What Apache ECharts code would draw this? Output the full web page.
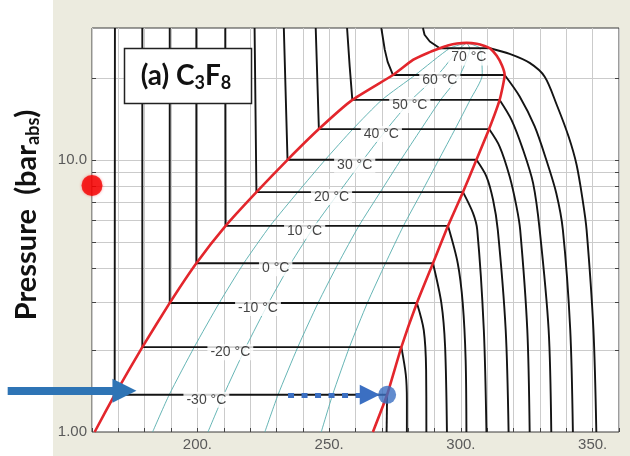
<!DOCTYPE html>
<html>
<head>
<meta charset="utf-8">
<script src="https://cdn.jsdelivr.net/npm/echarts/dist/echarts.min.js"></script>
<style>
  html, body { margin: 0; padding: 0; background: #ffffff; }
  #chart { width: 630px; height: 456px; }
</style>
</head>
<body>
<div id="chart"></div>
<script>
// ---- Axes (enthalpy in kJ/kg, pressure in bar abs, log scale) ----
const X_MIN = 160, X_MAX = 360, X_STEP = 10;
const Y_MIN = 1, Y_MAX = 30.5;
const X_LABEL_VALUES = [200, 250, 300, 350];
const Y_LABEL_VALUES = [1, 10];
const Y_LABEL_TEXT = ['1.00', '10.0'];
const GRID_P = [2, 3, 4, 5, 6, 7, 8, 9, 10, 20];

// ---- Isotherms of C3F8 ----
const TEMPS = [-30, -20, -10, 0, 10, 20, 30, 40, 50, 60, 70];
const P_SAT = [1.37, 2.05, 2.98, 4.17, 5.72, 7.61, 10.0, 12.97, 16.6, 20.5, 25.7];
const H_LIQ = [168.6, 179.1, 189.5, 199.6, 210.7, 222.4, 234.2, 246.1, 258.8, 274.2, 292.0];
const H_VAP = [272.0, 277.4, 283.3, 289.4, 295.1, 300.8, 305.9, 310.7, 314.7, 316.6, 311.0];

// subcooled-liquid branches, from the top of the chart down to saturation
const LIQ_BRANCH = [
  [[168.7, 30.5], [168.6, 1.37]],
  [[179.1, 30.5], [179.1, 2.05]],
  [[189.5, 30.5], [189.5, 2.98]],
  [[199.6, 30.5], [199.6, 4.17]],
  [[210.6, 30.5], [210.7, 5.72]],
  [[221.7, 30.5], [222.4, 7.61]],
  [[232.8, 30.5], [234.2, 10.0]],
  [[244.9, 30.5], [246.1, 12.97]],
  [[256.8, 30.5], [257.8, 22.0], [258.8, 16.6]],
  [[269.8, 30.5], [271.1, 25.4], [272.2, 22.9], [274.2, 20.5]],
  [[285.6, 30.5], [286.2, 28.8], [288.2, 27.2], [292.0, 25.7]]
];

// superheated-vapour branches, from saturation down to 1 bar
const VAP_BRANCH = [
  [[272.0, 1.37], [271.8, 1.0]],
  [[277.4, 2.05], [279.1, 1.62], [279.5, 1.31], [279.5, 1.0]],
  [[283.3, 2.98], [285.9, 2.37], [286.8, 1.69], [286.9, 1.0]],
  [[289.4, 4.17], [292.6, 2.97], [294.0, 2.06], [294.7, 1.0]],
  [[295.1, 5.72], [298.8, 4.17], [300.7, 2.97], [301.8, 1.84], [302.1, 1.0]],
  [[300.8, 7.61], [304.6, 6.37], [306.2, 5.53], [308.7, 2.37], [309.7, 1.0]],
  [[305.9, 10.0], [309.7, 8.68], [312.2, 7.13], [314.0, 5.53], [317.0, 2.37], [318.1, 1.0]],
  [[310.7, 12.97], [314.7, 11.19], [318.5, 8.68], [321.1, 6.73], [322.5, 5.53], [325.2, 2.37], [326.1, 1.0]],
  [[314.7, 16.6], [319.2, 14.03], [323.6, 10.88], [327.4, 8.21], [329.9, 5.53], [333.3, 2.37], [334.3, 1.0]],
  [[316.6, 20.5], [322.3, 17.09], [328.0, 13.26], [332.4, 10.0], [336.2, 7.54], [338.7, 5.53], [341.5, 2.37], [342.5, 1.0]],
  [[311.0, 25.7], [318.5, 24.5], [326.1, 22.7], [331.8, 20.2], [336.4, 15.9], [340.9, 12.15], [343.9, 9.59], [346.2, 7.13], [347.7, 5.53], [350.3, 2.37], [351.4, 1.0]]
];

// isotherm label anchors
const LABEL_H = [203.4, 212.5, 223.0, 229.7, 240.7, 250.9, 259.7, 269.8, 280.6, 292.0, 303.0];
const LABEL_P = [1.37, 2.05, 2.98, 4.17, 5.72, 7.61, 10.0, 12.97, 16.6, 20.5, 24.8];

// ---- Saturation dome ----
const DOME = [
  [161.0, 1.00], [168.6, 1.37], [179.1, 2.05], [189.5, 2.98], [199.6, 4.17],
  [210.7, 5.72], [222.4, 7.61], [234.2, 10.0], [246.1, 12.97], [258.8, 16.6],
  [274.2, 20.5], [281.8, 23.3], [287.4, 24.7], [292.0, 25.7], [295.0, 26.3],
  [298.5, 26.75], [302.2, 26.9], [306.0, 26.7], [309.0, 26.2], [311.0, 25.7],
  [313.6, 24.1], [315.6, 22.2], [316.6, 20.5], [314.7, 16.6],
  [310.7, 12.97], [305.9, 10.0], [300.8, 7.61], [295.1, 5.72], [289.4, 4.17],
  [283.3, 2.98], [277.4, 2.05], [272.0, 1.37], [266.6, 1.00]
];

// ---- Constant-quality lines inside the dome ----
const QUALITY_20 = [[183.0, 1.0], [189.3, 1.37], [198.8, 2.05], [208.3, 2.98], [217.6, 4.17], [227.6, 5.72], [238.1, 7.61], [248.5, 10.0], [259.0, 12.97], [270.0, 16.6], [282.7, 20.5], [295.8, 25.7], [302.2, 26.9]];
const QUALITY_40 = [[204.0, 1.0], [210.0, 1.37], [218.4, 2.05], [227.0, 2.98], [235.5, 4.17], [244.5, 5.72], [253.8, 7.61], [262.9, 10.0], [271.9, 12.97], [281.2, 16.6], [291.2, 20.5], [299.6, 25.7], [302.2, 26.9]];
const QUALITY_60 = [[225.6, 1.0], [230.6, 1.37], [238.1, 2.05], [245.8, 2.98], [253.5, 4.17], [261.3, 5.72], [269.4, 7.61], [277.2, 10.0], [284.9, 12.97], [292.3, 16.6], [299.6, 20.5], [303.4, 25.7], [302.2, 26.9]];
const QUALITY_80 = [[247.0, 1.0], [251.3, 1.37], [257.7, 2.05], [264.5, 2.98], [271.4, 4.17], [278.2, 5.72], [285.1, 7.61], [291.6, 10.0], [297.8, 12.97], [303.5, 16.6], [308.1, 20.5], [307.2, 25.7], [302.2, 26.9]];

// ---- Annotations ----
const FEED_ARROW = [[128.0, 1.418], [172.3, 1.418]];
const EVAP_PATH = [[234.4, 1.37], [265.4, 1.37]];
const EVAP_END = [272.0, 1.37];
const RED_POINT = [160, 8.05];

const SANS = "'Liberation Sans', Arial, sans-serif";
const BLACK = '#141414';

const series = [];

// horizontal pressure grid lines with edge ticks
series.push({
  type: 'custom',
  silent: true,
  z: 1,
  data: GRID_P.map(p => [X_MIN, p]),
  encode: { x: 0, y: 1 },
  renderItem: function (params, api) {
    const cs = params.coordSys;
    const y = Math.round(api.coord([X_MIN, api.value(1)])[1]) + 0.5;
    const x0 = cs.x, x1 = cs.x + cs.width;
    return {
      type: 'group',
      children: [
        { type: 'line', shape: { x1: x0, y1: y, x2: x1, y2: y }, style: { stroke: '#cbcbcb', lineWidth: 1 } },
        { type: 'line', shape: { x1: x0, y1: y, x2: x0 + 4, y2: y }, style: { stroke: '#444', lineWidth: 1 } },
        { type: 'line', shape: { x1: x1 - 4, y1: y, x2: x1, y2: y }, style: { stroke: '#444', lineWidth: 1 } }
      ]
    };
  }
});

[QUALITY_20, QUALITY_40, QUALITY_60, QUALITY_80].forEach(q => {
  series.push({
    type: 'line', data: q, z: 2, silent: true, symbol: 'none', smooth: 0.2,
    lineStyle: { color: '#55adad', width: 0.9 }
  });
});

TEMPS.forEach((t, i) => {
  // liquid branch plus the horizontal two-phase segment
  series.push({
    type: 'line', z: 3, silent: true, symbol: 'none',
    data: LIQ_BRANCH[i].concat([[H_VAP[i], P_SAT[i]]]),
    lineStyle: { color: BLACK, width: 1.9 }
  });
  series.push({
    type: 'line', z: 3, silent: true, symbol: 'none', smooth: 0.3,
    data: VAP_BRANCH[i],
    lineStyle: { color: BLACK, width: 1.9 }
  });
});

series.push({
  type: 'line', z: 4, silent: true, symbol: 'none', smooth: 0.15,
  data: DOME,
  lineStyle: { color: '#e3262c', width: 2.6 }
});

series.push({
  type: 'scatter', z: 5, silent: true, symbolSize: 0,
  data: TEMPS.map((t, i) => ({ value: [LABEL_H[i], LABEL_P[i]], name: t + ' \u00B0C' })),
  label: {
    show: true, position: 'inside', offset: [0, 5],
    formatter: p => p.name,
    color: BLACK, fontSize: 14, fontFamily: SANS,
    backgroundColor: '#ffffff', padding: [1, 3]
  }
});

series.push({
  type: 'lines', coordinateSystem: 'cartesian2d', z: 6, silent: true, clip: false,
  data: [{ coords: FEED_ARROW }],
  symbol: ['none', 'triangle'], symbolSize: [24, 24],
  lineStyle: { color: '#2e74b5', width: 8, opacity: 1 }
});

series.push({
  type: 'lines', coordinateSystem: 'cartesian2d', z: 6, silent: true, clip: false,
  data: [{ coords: EVAP_PATH }],
  symbol: ['none', 'triangle'], symbolSize: [20, 20],
  lineStyle: { color: '#3b6fc2', width: 5, type: [6, 7.5], opacity: 1 }
});

series.push({
  type: 'scatter', z: 7, silent: true, clip: false,
  data: [EVAP_END], symbolSize: 18,
  itemStyle: { color: '#3b6fc2' }
});

series.push({
  type: 'scatter', z: 7, silent: true, clip: false,
  data: [RED_POINT], symbolSize: 21,
  itemStyle: { color: '#f40000', shadowColor: 'rgba(255,0,0,0.5)', shadowBlur: 3 }
});

const chart = echarts.init(document.getElementById('chart'), null, { renderer: 'canvas' });
chart.setOption({
  animation: false,
  backgroundColor: '#ffffff',
  grid: {
    left: 92, right: 11, top: 28, bottom: 24,
    outerBoundsMode: 'none',
    show: true, backgroundColor: '#ffffff', borderColor: '#3a3a3a', borderWidth: 1
  },
  xAxis: {
    type: 'value', min: X_MIN, max: X_MAX, interval: X_STEP,
    axisLine: { show: false },
    axisTick: { show: true, inside: true, length: 4, lineStyle: { color: '#444' } },
    splitLine: { show: true, lineStyle: { color: '#cbcbcb', width: 1 } },
    axisLabel: {
      interval: 0, margin: 5, color: '#5a5a5a', fontSize: 15, fontFamily: SANS,
      formatter: v => (X_LABEL_VALUES.indexOf(v) >= 0 ? v + '.' : '')
    }
  },
  yAxis: {
    type: 'log', logBase: 10, min: Y_MIN, max: Y_MAX,
    axisLine: { show: false },
    axisTick: { show: false },
    splitLine: { show: false },
    axisLabel: {
      margin: 5, color: '#5a5a5a', fontSize: 15, fontFamily: SANS,
      formatter: v => {
        for (let k = 0; k < Y_LABEL_VALUES.length; k++) {
          if (Math.abs(v - Y_LABEL_VALUES[k]) < 1e-6) return Y_LABEL_TEXT[k];
        }
        return '';
      }
    }
  },
  graphic: [
    { type: 'rect', z: -100, silent: true, shape: { x: 53, y: 0, width: 577, height: 456 }, style: { fill: '#ecebdf' } },
    {
      type: 'text', z: 100, silent: true, x: 27, y: 215, rotation: Math.PI / 2,
      style: {
        text: '{a|Pressure  (bar}{s|abs}{a|)}',
        align: 'center', verticalAlign: 'middle',
        rich: {
          a: { fontSize: 29, fontWeight: 'bold', fontFamily: 'Lato, sans-serif', fill: '#111' },
          s: { fontSize: 18, fontWeight: 'bold', fontFamily: 'Lato, sans-serif', fill: '#111', padding: [12, 0, 0, 0] }
        }
      }
    },
    {
      type: 'rect', z: 100, silent: true,
      shape: { x: 124.5, y: 48.5, width: 127, height: 55 },
      style: { fill: '#ffffff', stroke: '#222', lineWidth: 1.5 }
    },
    {
      type: 'text', z: 101, silent: true, x: 186, y: 76,
      style: {
        text: '{a|(a) C}{s|3}{a|F}{s|8}',
        align: 'center', verticalAlign: 'middle',
        rich: {
          a: { fontSize: 28, fontWeight: 'bold', fontFamily: 'Lato, sans-serif', fill: '#111' },
          s: { fontSize: 18, fontWeight: 'bold', fontFamily: 'Lato, sans-serif', fill: '#111', padding: [14, 0, 0, 0] }
        }
      }
    }
  ],
  series: series
});
</script>
</body>
</html>
